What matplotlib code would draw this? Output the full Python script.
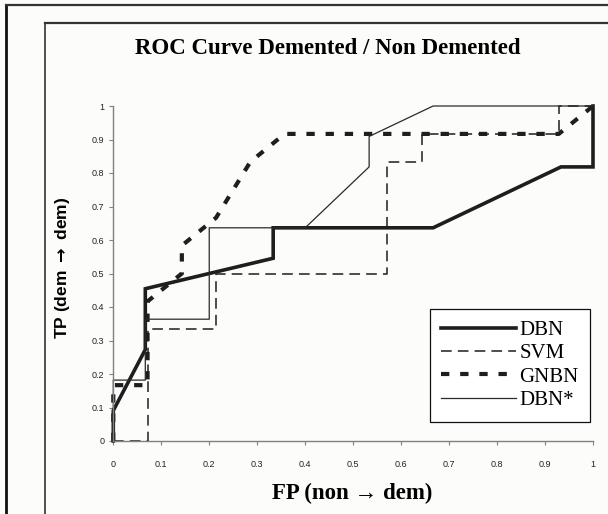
import matplotlib
matplotlib.use('Agg')
import matplotlib.pyplot as plt
from matplotlib.lines import Line2D

# ROC points (FP rate, TP rate)
fp_dbn = [0, 0, 0.0667, 0.0667, 0.3333, 0.3333, 0.6667, 0.9333, 1, 1]
tp_dbn = [0, 0.0909, 0.2727, 0.4545, 0.5455, 0.6364, 0.6364, 0.8182, 0.8182, 1]

fp_svm = [0, 0.0714, 0.0714, 0.2143, 0.2143, 0.5714, 0.5714, 0.6429, 0.6429, 0.9286, 0.9286, 1]
tp_svm = [0, 0, 0.3333, 0.3333, 0.5, 0.5, 0.8333, 0.8333, 0.9167, 0.9167, 1, 1]

fp_gnbn = [0, 0, 0.0714, 0.0714, 0.1429, 0.1429, 0.2143, 0.2857, 0.3571, 0.9286, 1]
tp_gnbn = [0, 0.1667, 0.1667, 0.4167, 0.5, 0.5833, 0.6667, 0.8333, 0.9167, 0.9167, 1]

fp_dbn2 = [0, 0, 0.0667, 0.0667, 0.2, 0.2, 0.4, 0.5333, 0.5333, 0.6667, 1]
tp_dbn2 = [0, 0.1818, 0.1818, 0.3636, 0.3636, 0.6364, 0.6364, 0.8182, 0.9091, 1, 1]

labels = ['DBN', 'SVM', 'GNBN', 'DBN*']
ticks = [0, 0.1, 0.2, 0.3, 0.4, 0.5, 0.6, 0.7, 0.8, 0.9, 1]
tick_labels = ['0', '0.1', '0.2', '0.3', '0.4', '0.5', '0.6', '0.7', '0.8', '0.9', '1']

W, H = 608, 514
bg = '#fcfcfb'
ink = '#1e1e1e'
serif = ['Liberation Serif', 'DejaVu Serif']
sans = ['Liberation Sans', 'DejaVu Sans']

fig = plt.figure(figsize=(W / 100, H / 100), dpi=100, facecolor=bg)

# outer and inner frames (only left/top visible in the reference)
def px_line(x0, y0, x1, y1, lw, color):
    fig.add_artist(Line2D([x0 / W, x1 / W], [1 - y0 / H, 1 - y1 / H],
                          transform=fig.transFigure, lw=lw, color=color))

px_line(6, 5, 6, H, 2.0, '#111111')
px_line(6, 5, W, 5, 1.6, '#333333')
px_line(44.5, 23, 44.5, H, 1.2, '#333333')
px_line(44.5, 23, W, 23, 1.6, '#333333')

x0, x1 = 113.3, 593
y0, y1 = 441, 106
ax = fig.add_axes([x0 / W, 1 - y0 / H, (x1 - x0) / W, (y0 - y1) / H])
ax.set_facecolor(bg)

l1, = ax.plot(fp_dbn, tp_dbn, color=ink, lw=2.6, clip_on=False,
              solid_joinstyle='miter')
l2, = ax.plot(fp_svm, tp_svm, color=ink, lw=1.1, clip_on=False)
l2.set_dashes((7, 4))
l3, = ax.plot(fp_gnbn, tp_gnbn, color=ink, lw=3.0, clip_on=False,
              dash_capstyle='butt')
l3.set_dashes((2.0, 2.6))
l4, = ax.plot(fp_dbn2, tp_dbn2, color='#2a2a2a', lw=0.9, clip_on=False)

ax.set_xlim(0, 1)
ax.set_ylim(0, 1)
ax.set_xticks(ticks)
ax.set_yticks(ticks)
ax.set_xticklabels(tick_labels, fontsize=6.5, family=sans, color='#222222')
ax.set_yticklabels(tick_labels, fontsize=6.5, family=sans, color='#222222')
ax.tick_params(axis='x', direction='out', length=3, width=0.8, color='#808080', pad=10.5)
ax.tick_params(axis='y', direction='out', length=3, width=0.8, color='#808080', pad=3.5)
for side in ['top', 'right']:
    ax.spines[side].set_visible(False)
for side in ['left', 'bottom']:
    ax.spines[side].set_color('#808080')
    ax.spines[side].set_linewidth(1.0)

fig.text(328 / W, 1 - 49 / H, 'ROC Curve Demented / Non Demented',
         ha='center', va='center', fontsize=16.5, fontweight='bold', family=serif)
fig.text(352 / W, 1 - 493 / H, 'FP (non \u2192 dem)',
         ha='center', va='center', fontsize=16.5, fontweight='bold', family=serif)
fig.text(63 / W, 1 - 268 / H, 'TP (dem $\\mathbf{\\rightarrow}$ dem)', rotation=90,
         ha='center', va='center', fontsize=12.5, fontweight='bold', family=sans)

leg = ax.legend([l1, l2, l3, l4], labels,
                loc='upper left', bbox_to_anchor=(430 / W, 1 - 309 / H),
                bbox_transform=fig.transFigure,
                prop={'family': serif, 'size': 15},
                frameon=True, fancybox=False, framealpha=1,
                edgecolor='#111111', facecolor='white',
                handlelength=3.6, handletextpad=0.15, labelspacing=0.18,
                borderpad=0.55, borderaxespad=0)
leg.get_frame().set_linewidth(0.9)

fig.savefig('out.png', dpi=100, facecolor=bg)
